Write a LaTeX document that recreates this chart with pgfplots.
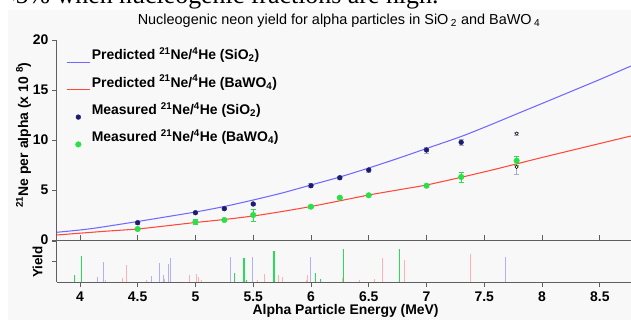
\documentclass[border=0pt]{standalone}
\usepackage{pgfplots}
\pgfplotsset{compat=1.18}
\usepackage{fontspec}
\setmainfont{Liberation Sans}
\newfontfamily\seriffont{Liberation Serif}
\definecolor{bg}{RGB}{248,248,248}
\definecolor{predblue}{RGB}{112,104,255}
\definecolor{predred}{RGB}{255,72,56}
\definecolor{navy}{RGB}{28,28,112}
\definecolor{measgreen}{RGB}{40,224,72}
\definecolor{errblue}{RGB}{170,170,205}
\definecolor{spblue}{RGB}{176,176,255}
\definecolor{spred}{RGB}{255,176,176}
\definecolor{spgreen}{RGB}{40,220,90}
\definecolor{axgray}{RGB}{95,95,95}

\pgfplotsset{
  lineleg/.style={legend image code/.code={\path[draw=none,fill=none] (0bp,0bp) -- (23bp,0bp); \draw[##1, overlay] (0bp,-8bp) -- (23bp,-8bp);}},
  markleg/.style={legend image code/.code={\path[draw=none,fill=none] (0bp,0bp) -- (23bp,0bp); \draw[##1, overlay] plot coordinates {(11bp,-8bp)};}},
}

\pgfplotstableread{
x y e
4.5 1.73 0.15
5.0 2.73 0.10
5.25 3.13 0.10
5.5 3.60 0.10
6.0 5.43 0.20
6.25 6.23 0.15
6.5 7.00 0.20
7.0 9.00 0.30
7.3 9.77 0.30
}\measSi
\pgfplotstableread{
x y e
4.5 1.10 0.10
5.0 1.80 0.25
5.25 2.00 0.10
5.5 2.50 0.60
6.0 3.33 0.15
6.25 4.23 0.10
6.5 4.47 0.10
7.0 5.43 0.10
7.3 6.30 0.50
7.78 7.93 0.45
}\measBa
\pgfplotstableread{
x y e
7.78 10.65 0.15
7.78 7.30 0.70
}\measGhost

\begin{document}
\begin{tikzpicture}
\useasboundingbox (-56.8bp,-80bp) rectangle (574.2bp,240bp);
\fill[bg] (-48.8bp,-80bp) rectangle (574.2bp,230bp);
\node[anchor=base west, inner sep=0pt, font=\seriffont\fontsize{26}{26}\selectfont] at (-56bp,236bp) {<5\% when nucleogenic fractions are high.};

\begin{axis}[
  at={(0bp,0bp)}, anchor=south west,
  scale only axis, width=574.2bp, height=200bp,
  xmin=3.8, xmax=8.77, ymin=0, ymax=20,
  axis x line=bottom, axis y line=left,
  axis line style={axgray, line width=0.8pt, -},
  xtick={4,4.5,5,5.5,6,6.5,7,7.5,8,8.5}, xticklabels={},
  xtick align=inside,
  ytick={0,5,10,15,20}, ytick align=outside,
  major tick length=5bp,
  tick style={axgray, line width=0.8pt},
  /pgf/number format/assume math mode=true,
  yticklabel style={font=\bfseries\fontsize{14}{14}\selectfont},
  ylabel={\textsuperscript{21}Ne per alpha (x 10 \textsuperscript{8})},
  ylabel style={at={(axis description cs:-0.058,0.525)}, anchor=center, font=\bfseries\fontsize{14}{16}\selectfont},
  title={Nucleogenic neon yield for alpha particles in SiO\,\textsubscript{2} and BaWO\,\textsubscript{4}},
  title style={at={(axis description cs:0.4915,1.068)}, anchor=center, inner sep=0pt, font=\fontsize{14.5}{16}\selectfont},
  legend style={at={(axis description cs:0.018,0.97)}, anchor=north west, draw=none, fill=none,
    font=\bfseries\fontsize{14}{16}\selectfont, row sep=10.8bp, inner sep=0pt,
    nodes={inner sep=1.5bp}},
  legend cell align=left,
  clip=false,
]
\addplot[predblue, line width=1.05pt, smooth, tension=0.4, lineleg] coordinates {
(3.8,0.77)(4.0,1.0)(4.15,1.22)(4.5,1.85)(5.0,2.8)(5.25,3.35)(5.5,4.0)(5.75,4.7)
(6.0,5.5)(6.25,6.3)(6.5,7.2)(6.75,8.15)(7.0,9.15)(7.3,10.35)(7.55,11.5)(7.8,12.7)
(8.0,13.65)(8.25,14.85)(8.5,16.05)(8.77,17.4)};
\addlegendentry{Predicted \textsuperscript{21}Ne/\textsuperscript{4}He (SiO\textsubscript{2})}
\addplot[predred, line width=1.05pt, smooth, tension=0.4, lineleg] coordinates {
(3.8,0.5)(4.0,0.68)(4.25,0.9)(4.5,1.1)(4.75,1.42)(5.0,1.75)(5.25,2.05)(5.5,2.4)
(5.75,2.85)(6.0,3.35)(6.25,3.92)(6.5,4.5)(6.75,5.0)(7.0,5.5)(7.3,6.27)(7.55,6.95)
(7.8,7.67)(8.0,8.25)(8.25,8.95)(8.5,9.65)(8.77,10.4)};
\addlegendentry{Predicted \textsuperscript{21}Ne/\textsuperscript{4}He (BaWO\textsubscript{4})}
\addplot[only marks, mark=*, mark size=1.6bp, mark options={draw=none, fill=white}, forget plot,
  error bars/.cd, y dir=both, y explicit,
  error bar style={errblue, line width=0.8pt},
  error mark options={rotate=90, mark size=2.5bp, errblue, line width=0.8pt}]
  table[x=x, y=y, y error=e] {\measGhost};
\addplot[only marks, mark=*, mark size=2.4bp, navy, markleg,
  error bars/.cd, y dir=both, y explicit,
  error bar style={errblue, line width=0.8pt},
  error mark options={rotate=90, mark size=2.5bp, errblue, line width=0.8pt}]
  table[x=x, y=y, y error=e] {\measSi};
\addlegendentry{Measured \textsuperscript{21}Ne/\textsuperscript{4}He (SiO\textsubscript{2})}
\addplot[only marks, mark=*, mark size=2.8bp, measgreen, markleg,
  error bars/.cd, y dir=both, y explicit,
  error bar style={measgreen, line width=0.8pt},
  error mark options={rotate=90, mark size=2.5bp, measgreen, line width=0.8pt}]
  table[x=x, y=y, y error=e] {\measBa};
\addlegendentry{Measured \textsuperscript{21}Ne/\textsuperscript{4}He (BaWO\textsubscript{4})}
\end{axis}

\begin{axis}[
  at={(0bp,-1bp)}, anchor=north west,
  scale only axis, width=574.2bp, height=41bp,
  xmin=3.8, xmax=8.77, ymin=0, ymax=1,
  axis x line=bottom, axis y line=left,
  axis line style={axgray, line width=0.8pt, -},
  xtick={4,4.5,5,5.5,6,6.5,7,7.5,8,8.5},
  xticklabels={4,4.5,5,5.5,6,6.5,7,7.5,8,8.5},
  xtick align=outside,
  ytick={0.5,1}, yticklabels={}, ytick align=outside,
  major tick length=5bp,
  tick style={axgray, line width=0.8pt},
  xticklabel style={font=\bfseries\fontsize{14}{14}\selectfont, inner sep=1bp, yshift=-4bp},
  xlabel={Alpha Particle Energy (MeV)},
  xlabel style={at={(axis description cs:0.503,0)}, anchor=center, inner sep=0pt, yshift=-29bp, font=\bfseries\fontsize{14}{15}\selectfont},
  ylabel={Yield},
  ylabel style={at={(axis description cs:-0.0336,0.49)}, anchor=center, font=\bfseries\fontsize{13.5}{15}\selectfont},
]
\addplot[ycomb, no marks, spred, line width=1bp] coordinates {
(4.22,0.05)(4.37,0.10)(4.40,0.41)(4.58,0.05)(4.62,0.04)(4.73,0.08)(4.95,0.17)(5.01,0.20)(5.03,0.13)(5.05,0.05)
(5.54,0.06)(5.60,0.20)(5.72,0.17)(5.75,0.13)(5.96,0.05)(5.97,0.17)(6.27,0.10)(6.42,0.05)(6.55,0.08)
(6.62,0.58)(6.81,0.54)(7.38,0.68)};
\addplot[ycomb, no marks, spblue, line width=1bp] coordinates {
(4.15,0.11)(4.20,0.48)(4.62,0.15)(4.685,0.47)(4.72,0.17)(4.77,0.44)(4.785,0.58)
(5.30,0.60)(5.49,0.60)(6.00,0.60)(7.68,0.60)};
\addplot[ycomb, no marks, spgreen, line width=1.1bp] coordinates {
(3.95,0.17)(4.015,0.63)(5.34,0.23)(5.42,0.59)(5.44,0.05)(5.68,0.76)(6.04,0.21)(6.08,0.07)
(6.28,0.80)(6.77,0.80)};
\end{axis}
\end{tikzpicture}
\end{document}
